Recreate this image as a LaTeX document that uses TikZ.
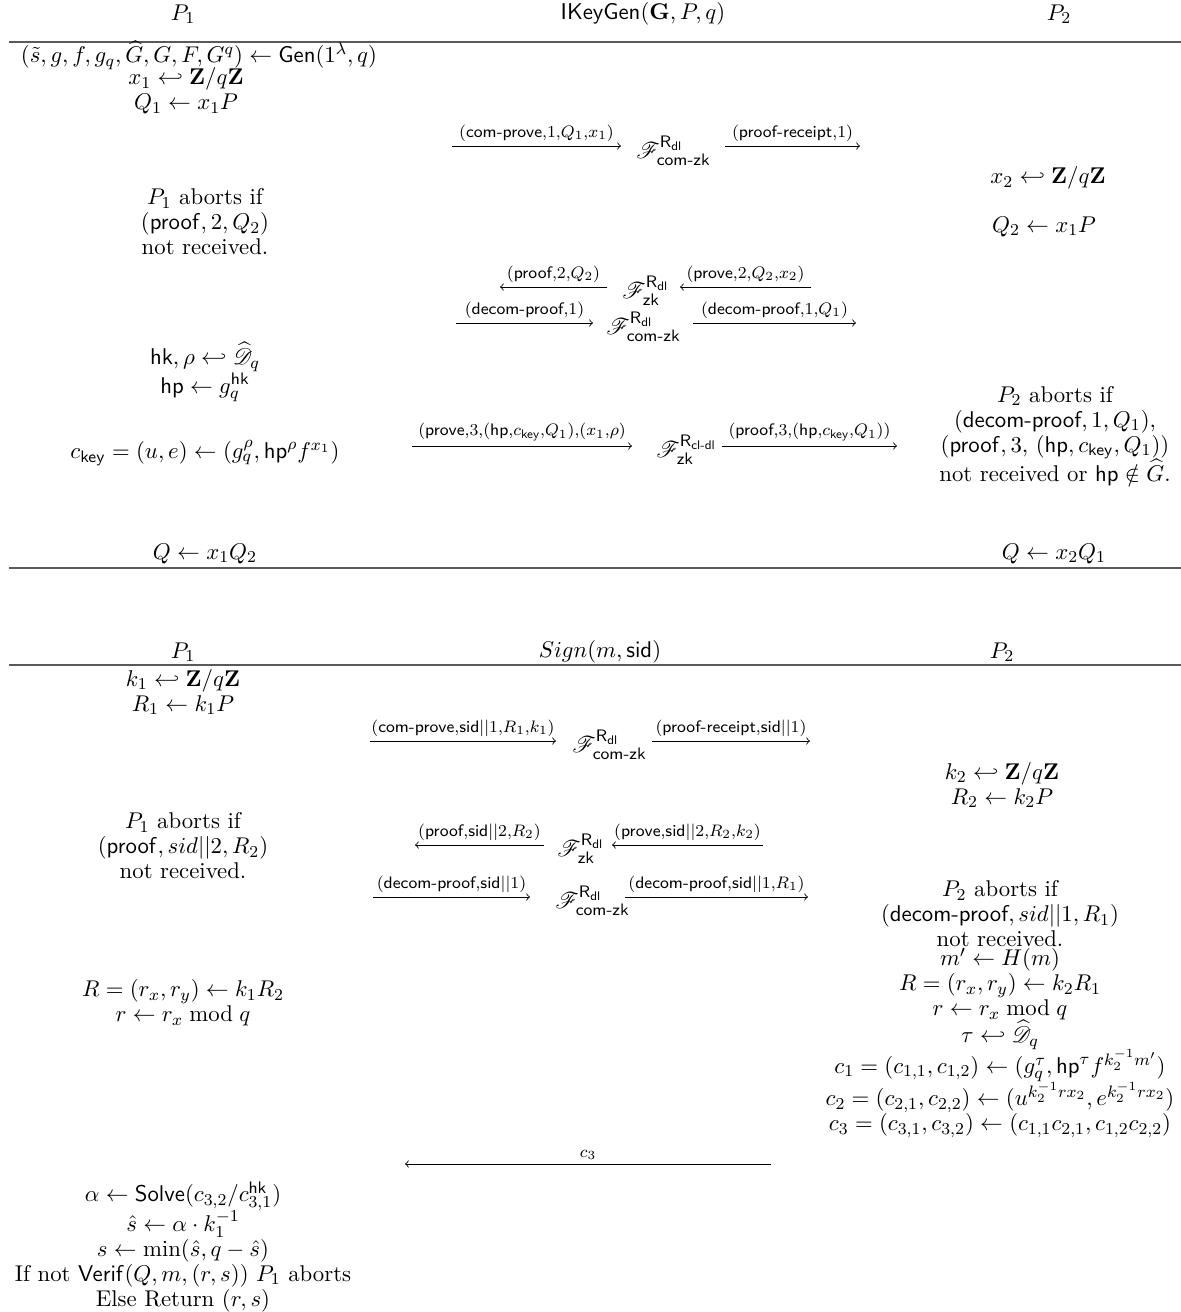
\documentclass[tikz,border=0pt,11pt]{standalone}
\usepackage{amsmath,amssymb}
\usepackage{mathrsfs}

\newcommand{\tightlines}{\lineskip 0pt\relax}
\tikzstyle{txt} = [align=center,inner sep=0pt,font={\fontsize{10.95}{12}\selectfont\tightlines}]
\tikzstyle{func} = [inner sep=0pt,anchor=west]
\tikzstyle{msg} = [->,line width=0.4pt]
\tikzstyle{lab} = [above,inner sep=2pt]
\tikzstyle{hrule} = [draw=black!65,line width=0.9pt]

\newcommand{\Fcz}{$\mathscr{F}^{\mathsf{R}_{\mathsf{dl}}}_{\textsf{com-zk}}$}
\newcommand{\Fzk}{$\mathscr{F}^{\mathsf{R}_{\mathsf{dl}}}_{\mathsf{zk}}$}
\newcommand{\Dq}{\widehat{\mathscr{D}}_q}

\begin{document}
\begin{tikzpicture}[x=0.169mm,y=-0.169mm]
    \useasboundingbox (0,0) rectangle (1181,1312);
    % IKeyGen
    \node[txt] (h1) at (183,14) {$P_1$};
    \node[txt] (h2) at (643,14) {$\mathsf{IKeyGen}(\mathbf{G},P,q)$};
    \node[txt] (h3) at (1059,14) {$P_2$};
    \coordinate (r1a) at (9,42);
    \coordinate (r1b) at (1181,42);
    \draw[hrule] (r1a) -- (r1b);
	\node[txt] (a1) at (199,55) {$(\tilde{s},g,f,g_q,\widehat{G},G,F,G^q)\leftarrow\mathsf{Gen}(1^{\lambda},q)$};
	\node[txt] (a2) at (186,91) {$x_1\hookleftarrow\mathbf{Z}/q\mathbf{Z}$\\$Q_1\leftarrow x_1P$};
	\node[func] (F1) at (636,151) {\Fcz};
	\coordinate (m1a) at (452,146);
	\coordinate (m1b) at (621,146);
	\coordinate (m1c) at (725,146);
	\coordinate (m1d) at (860,146);
	\draw[msg] (m1a) -- node[lab] {$\scriptstyle(\textsf{com-prove},1,Q_1,x_1)$} (m1b);
	\draw[msg] (m1c) -- node[lab] {$\scriptstyle(\textsf{proof-receipt},1)$} (m1d);
	\node[txt] (b1) at (1048,178) {$x_2\hookleftarrow\mathbf{Z}/q\mathbf{Z}$};
	\node[txt] (b2) at (1044,227) {$Q_2\leftarrow x_1P$};
	\node[txt] (a3) at (205,222) {$P_1$ aborts if\\$(\mathsf{proof},2,Q_2)$\\not received.};
	\node[func] (F2) at (622,291) {\Fzk};
	\coordinate (m2a) at (607,287);
	\coordinate (m2b) at (500,287);
	\coordinate (m2c) at (811,287);
	\coordinate (m2d) at (680,287);
	\draw[msg] (m2a) -- node[lab] {$\scriptstyle(\textsf{proof},2,Q_2)$} (m2b);
	\draw[msg] (m2c) -- node[lab] {$\scriptstyle(\textsf{prove},2,Q_2,x_2)$} (m2d);
	\node[func] (F3) at (606,327) {\Fcz};
	\coordinate (m3a) at (456,323);
	\coordinate (m3b) at (593,323);
	\coordinate (m3c) at (693,323);
	\coordinate (m3d) at (856,323);
	\draw[msg] (m3a) -- node[lab] {$\scriptstyle(\textsf{decom-proof},1)$} (m3b);
	\draw[msg] (m3c) -- node[lab] {$\scriptstyle(\textsf{decom-proof},1,Q_1)$} (m3d);
	\node[txt] (a4) at (205,372) {$\mathsf{hk},\rho\hookleftarrow\Dq$\\[1pt]$\mathsf{hp}\leftarrow g_q^{\mathsf{hk}}$};
	\node[func] (F4) at (656,450) {$\mathscr{F}^{\mathsf{R}_{\textsf{cl-dl}}}_{\mathsf{zk}}$};
	\coordinate (m4a) at (412,446);
	\coordinate (m4b) at (632,446);
	\coordinate (m4c) at (722,446);
	\coordinate (m4d) at (897,446);
	\draw[msg] (m4a) -- node[lab] {$\scriptstyle(\textsf{prove},3,(\textsf{hp},c_{\textsf{key}},Q_1),(x_1,\rho)$} (m4b);
	\draw[msg] (m4c) -- node[lab] {$\scriptstyle(\textsf{proof},3,(\textsf{hp},c_{\textsf{key}},Q_1))$} (m4d);
	\node[txt] (a5) at (205,453) {$c_{\mathsf{key}}=(u,e)\leftarrow(g_q^{\rho},\mathsf{hp}^{\rho}f^{x_1})$};
	\node[txt] (b3) at (1055,436) {$P_2$ aborts if\\$(\textsf{decom-proof},1,Q_1),$\\$(\mathsf{proof},3,\,(\mathsf{hp},c_{\mathsf{key}},Q_1))$\\not received or $\mathsf{hp}\notin\widehat{G}$.};
	\node[txt] (a6) at (205,554) {$Q\leftarrow x_1Q_2$};
	\node[txt] (b4) at (1054,554) {$Q\leftarrow x_2Q_1$};
	\coordinate (r2a) at (9,568);
	\coordinate (r2b) at (1181,568);
	\draw[hrule] (r2a) -- (r2b);
	% Sign
	\node[txt] (s1) at (183,652) {$P_1$};
	\node[txt] (s2) at (600,652) {$Sign(m,\mathsf{sid})$};
	\node[txt] (s3) at (1002,652) {$P_2$};
	\coordinate (r3a) at (9,665);
	\coordinate (r3b) at (1181,665);
	\draw[hrule] (r3a) -- (r3b);
	\node[txt] (c1) at (183,692) {$k_1\hookleftarrow\mathbf{Z}/q\mathbf{Z}$\\$R_1\leftarrow k_1P$};
	\node[func] (G1) at (572,745) {\Fcz};
	\coordinate (n1a) at (370,741);
	\coordinate (n1b) at (556,741);
	\coordinate (n1c) at (652,741);
	\coordinate (n1d) at (810,741);
	\draw[msg] (n1a) -- node[lab] {$\scriptstyle(\textsf{com-prove},\textsf{sid}||1,R_1,k_1)$} (n1b);
	\draw[msg] (n1c) -- node[lab] {$\scriptstyle(\textsf{proof-receipt},\textsf{sid}||1)$} (n1d);
	\node[txt] (d1) at (1002,785) {$k_2\hookleftarrow\mathbf{Z}/q\mathbf{Z}$\\$R_2\leftarrow k_2P$};
	\node[txt] (c2) at (183,846) {$P_1$ aborts if\\$(\mathsf{proof},sid||2,R_2)$\\not received.};
	\node[func] (G2) at (557,849) {\Fzk};
	\coordinate (n2a) at (544,845);
	\coordinate (n2b) at (415,845);
	\coordinate (n2c) at (763,845);
	\coordinate (n2d) at (612,845);
	\draw[msg] (n2a) -- node[lab] {$\scriptstyle(\textsf{proof},\textsf{sid}||2,R_2)$} (n2b);
	\draw[msg] (n2c) -- node[lab] {$\scriptstyle(\textsf{prove},\textsf{sid}||2,R_2,k_2)$} (n2d);
	\node[func] (G3) at (555,901) {\Fcz};
	\coordinate (n3a) at (373,897);
	\coordinate (n3b) at (530,897);
	\coordinate (n3c) at (625,897);
	\coordinate (n3d) at (808,897);
	\draw[msg] (n3a) -- node[lab] {$\scriptstyle(\textsf{decom-proof},\textsf{sid}||1)$} (n3b);
	\draw[msg] (n3c) -- node[lab] {$\scriptstyle(\textsf{decom-proof},\textsf{sid}||1,R_1)$} (n3d);
	\node[txt] (d2) at (1000,914) {$P_2$ aborts if\\$(\textsf{decom-proof},sid||1,R_1)$\\not received.};
	\node[txt] (d3) at (1000,1043) {$m'\leftarrow H(m)$\\$R=(r_x,r_y)\leftarrow k_2R_1$\\$r\leftarrow r_x\bmod q$\\$\tau\hookleftarrow\Dq$\\$c_1=(c_{1,1},c_{1,2})\leftarrow(g_q^{\tau},\mathsf{hp}^{\tau}f^{k_2^{-1}m'})$\\$c_2=(c_{2,1},c_{2,2})\leftarrow(u^{k_2^{-1}rx_2},e^{k_2^{-1}rx_2})$\\$c_3=(c_{3,1},c_{3,2})\leftarrow(c_{1,1}c_{2,1},c_{1,2}c_{2,2})$};
	\node[txt] (c3) at (183,1003) {$R=(r_x,r_y)\leftarrow k_1R_2$\\$r\leftarrow r_x\bmod q$};
	\coordinate (n4a) at (771,1164);
	\coordinate (n4b) at (405,1164);
	\draw[msg] (n4a) -- node[lab] {$\scriptstyle c_3$} (n4b);
	\node[txt] (c4) at (183,1247) {$\alpha\leftarrow\mathsf{Solve}(c_{3,2}/c_{3,1}^{\mathsf{hk}})$\\$\hat{s}\leftarrow\alpha\cdot k_1^{-1}$\\$s\leftarrow\min(\hat{s},q-\hat{s})$\\If not $\mathsf{Verif}(Q,m,(r,s))$ $P_1$ aborts\\Else Return $(r,s)$};
\end{tikzpicture}
\end{document}
